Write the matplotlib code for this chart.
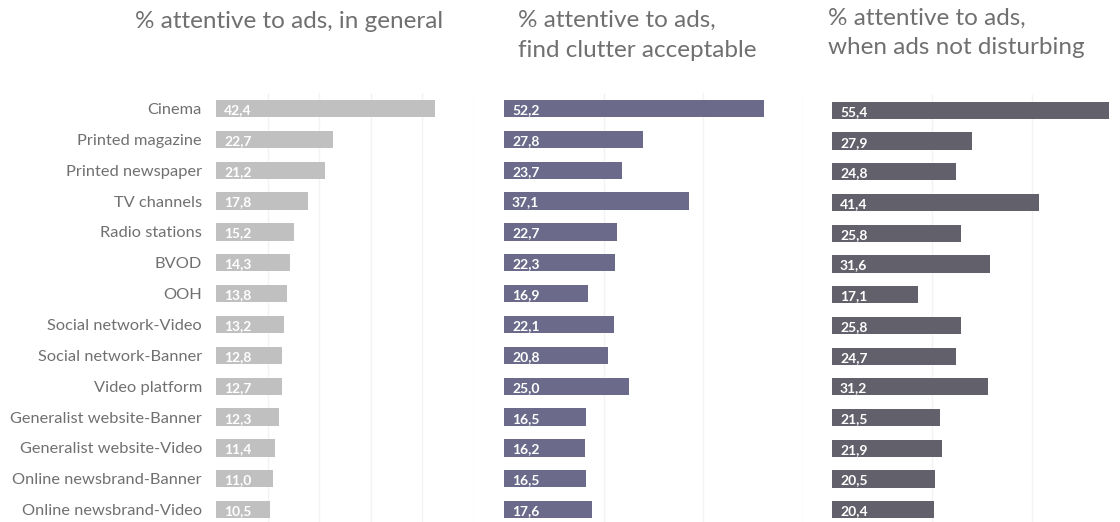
import matplotlib
matplotlib.use("Agg")
import matplotlib.pyplot as plt

categories = ["Cinema", "Printed magazine", "Printed newspaper", "TV channels",
              "Radio stations", "BVOD", "OOH", "Social network-Video",
              "Social network-Banner", "Video platform", "Generalist website-Banner",
              "Generalist website-Video", "Online newsbrand-Banner", "Online newsbrand-Video"]
general = [42.4, 22.7, 21.2, 17.8, 15.2, 14.3, 13.8, 13.2, 12.8, 12.7, 12.3, 11.4, 11.0, 10.5]
clutter_ok = [52.2, 27.8, 23.7, 37.1, 22.7, 22.3, 16.9, 22.1, 20.8, 25.0, 16.5, 16.2, 16.5, 17.6]
not_disturbing = [55.4, 27.9, 24.8, 41.4, 25.8, 31.6, 17.1, 25.8, 24.7, 31.2, 21.5, 21.9, 20.5, 20.4]
titles = ["% attentive to ads, in general",
          "% attentive to ads,\nfind clutter acceptable",
          "% attentive to ads,\nwhen ads not disturbing"]

W, H = 1120, 522
fig = plt.figure(figsize=(W / 100, H / 100), dpi=100)
plt.rcParams['font.family'] = ['Lato', 'DejaVu Sans']

def px_axes(left, top, width, bottom):
    return fig.add_axes([left / W, 1 - bottom / H, width / W, (bottom - top) / H])

panels = [
    dict(vals=general, color="#c0c0c0", left=216, top=93, width=258, xlim=50, ticks=[10, 20, 30, 40, 50],
         title_x=135, title_y=21),
    dict(vals=clutter_ok, color="#6b6a8a", left=504, top=93, width=299, xlim=60, ticks=[20, 40, 60],
         title_x=518, title_y=35.5),
    dict(vals=not_disturbing, color="#62616b", left=832, top=95, width=288, xlim=57.6, ticks=[20, 40],
         title_x=828, title_y=33),
]

n = len(categories)
for i, p in enumerate(panels):
    ax = px_axes(p["left"], p["top"], p["width"], H)
    y = list(range(n))
    ax.barh(y, p["vals"], height=0.56, color=p["color"], zorder=3)
    ax.set_xlim(0, p["xlim"])
    ax.set_ylim(13.4, -0.5)
    for s in ax.spines.values():
        s.set_visible(False)
    ax.set_xticks(p["ticks"])
    ax.tick_params(axis="x", length=0, labelbottom=False)
    ax.grid(axis="x", color="#f3f3f3", linewidth=1, zorder=0)
    for yi, v in zip(y, p["vals"]):
        ax.text(p["xlim"] * 8 / p["width"], yi + 0.05, f"{v:.1f}".replace(".", ","),
                color="white", fontsize=10, fontweight="bold", va="center", ha="left", zorder=4)
    if i == 0:
        ax.set_yticks(y)
        ax.set_yticklabels(categories, fontsize=11.8, color="#707070")
        ax.tick_params(axis="y", length=0, pad=10)
    else:
        ax.set_yticks([])
    fig.text(p["title_x"] / W, 1 - p["title_y"] / H, titles[i], fontsize=17.5, color="#707070",
             ha="left", va="center", linespacing=1.5)

fig.savefig("out.png", dpi=100)
